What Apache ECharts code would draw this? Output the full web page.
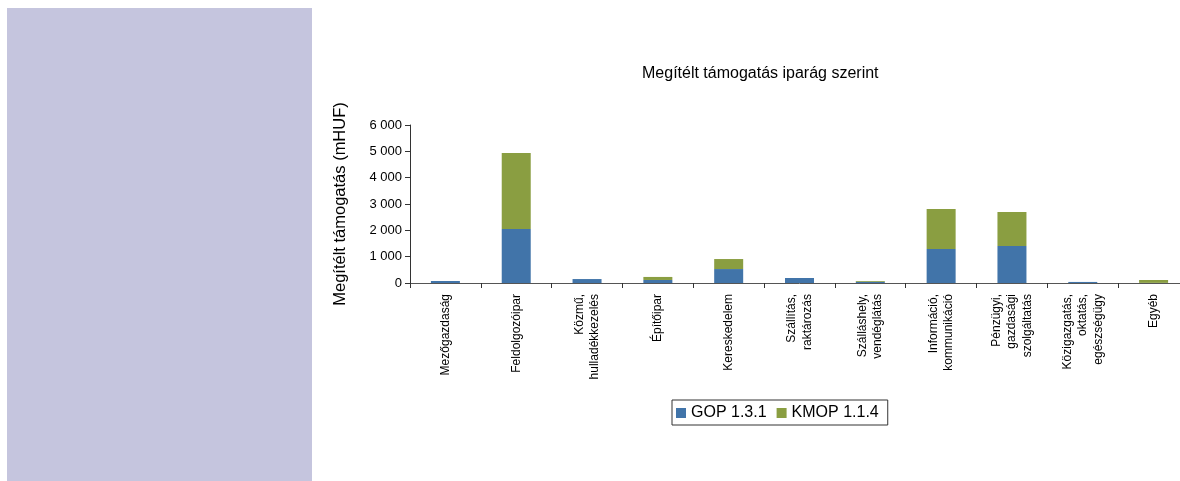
<!DOCTYPE html>
<html>
<head>
<meta charset="utf-8">
<script src="https://cdn.jsdelivr.net/npm/echarts@6/dist/echarts.min.js"></script>
<style>
html,body{margin:0;padding:0;background:#fff;overflow:hidden;}
#c{width:1200px;height:481px;}
</style>
</head>
<body>
<div id="c"></div>
<script>
const categories = [
  'Mezőgazdaság', 'Feldolgozóipar', 'Közmű,\nhulladékkezelés', 'Építőipar',
  'Kereskedelem', 'Szállítás,\nraktározás', 'Szálláshely,\nvendéglátás',
  'Információ,\nkommunikáció', 'Pénzügyi,\ngazdasági\nszolgáltatás',
  'Közigazgatás,\noktatás,\negészségügy', 'Egyéb'
];
const gopValues  = [75, 2050, 150, 115, 530, 190, 45, 1290, 1405, 40, 5];
const kmopValues = [0, 2890, 0, 115, 380, 0, 30, 1520, 1290, 0, 110];
const yTicks = [0, 1000, 2000, 3000, 4000, 5000, 6000];

const chart = echarts.init(document.getElementById('c'), null, {renderer: 'canvas'});
const font = 'Liberation Sans, Arial, sans-serif';
chart.setOption({
  animation: false,
  textStyle: {fontFamily: font},
  graphic: [{
    type: 'rect', z: -10, silent: true,
    shape: {x: 7, y: 8, width: 305, height: 473},
    style: {fill: '#C5C5DE'}
  }],
  title: {
    text: 'Megítélt támogatás iparág szerint',
    left: 642, top: 66,
    padding: 0,
    textStyle: {fontSize: 16, fontWeight: 'normal', color: '#000', fontFamily: font}
  },
  legend: {
    left: 672, top: 400,
    data: ['GOP 1.3.1', 'KMOP 1.1.4'],
    icon: 'rect', itemWidth: 10, itemHeight: 10, itemGap: 10,
    padding: [5, 9, 4, 4],
    borderColor: '#333', borderWidth: 1,
    textStyle: {fontSize: 16, color: '#000', fontFamily: font, padding: [0, 0, 0, 0]}
  },
  grid: {left: 410, right: 11, top: 125, bottom: 198, containLabel: false},
  xAxis: {
    type: 'category', data: categories,
    axisLine: {lineStyle: {color: '#555', width: 1}},
    axisTick: {show: true, alignWithLabel: false, length: 5, lineStyle: {color: '#333'}},
    axisLabel: {rotate: 90, interval: 0, fontSize: 12, color: '#000', margin: 11, lineHeight: 15.5, fontFamily: font}
  },
  yAxis: {
    type: 'value', min: 0, max: 6000, interval: 1000,
    name: 'Megítélt támogatás (mHUF)', nameLocation: 'middle', nameRotate: 90, nameGap: 61,
    nameTextStyle: {fontSize: 16.5, color: '#000', fontFamily: font},
    axisLine: {show: true, lineStyle: {color: '#333'}},
    axisTick: {show: true, length: 5, lineStyle: {color: '#333'}},
    splitLine: {show: false},
    axisLabel: {
      fontSize: 13, color: '#000', margin: 8, fontFamily: font,
      customValues: yTicks,
      formatter: v => String(v).replace(/\B(?=(\d{3})+(?!\d))/g, ' ')
    }
  },
  series: [
    {name: 'GOP 1.3.1', type: 'bar', stack: 'a', data: gopValues, barWidth: 29, itemStyle: {color: '#4174A9'}},
    {name: 'KMOP 1.1.4', type: 'bar', stack: 'a', data: kmopValues, barWidth: 29, itemStyle: {color: '#8A9E41'}}
  ]
});
</script>
</body>
</html>
